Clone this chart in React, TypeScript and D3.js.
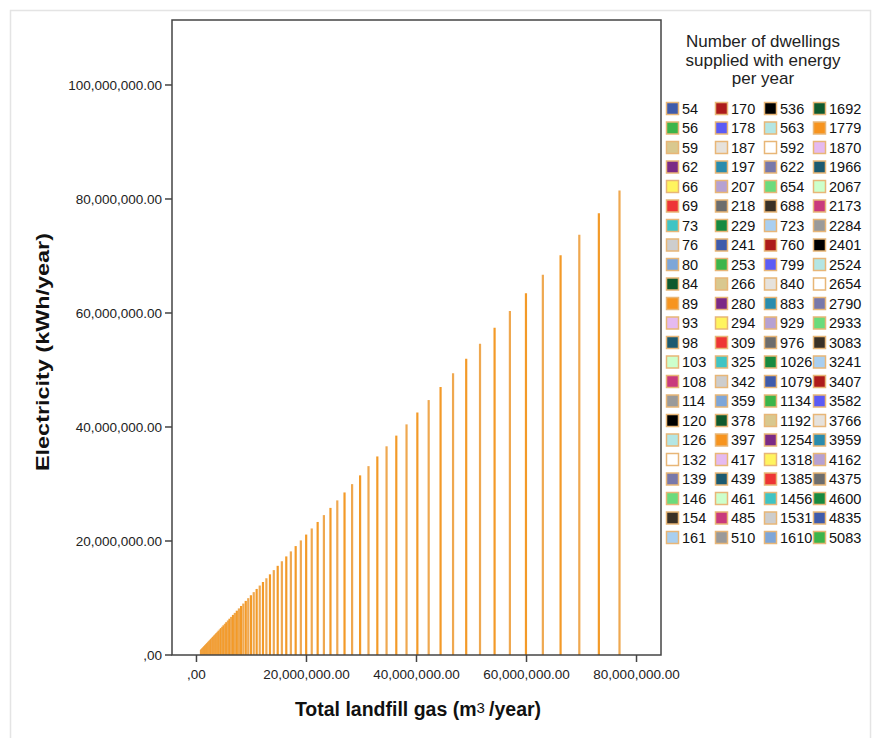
import { useEffect, useRef } from "react";
import * as d3 from "d3";

// Legend categories: number of dwellings supplied with energy per year
const dwellings = [
  54, 56, 59, 62, 66, 69, 73, 76, 80, 84, 89, 93, 98, 103, 108, 114, 120, 126, 132, 139, 146, 154, 161,
  170, 178, 187, 197, 207, 218, 229, 241, 253, 266, 280, 294, 309, 325, 342, 359, 378, 397, 417, 439, 461, 485, 510,
  536, 563, 592, 622, 654, 688, 723, 760, 799, 840, 883, 929, 976, 1026, 1079, 1134, 1192, 1254, 1318, 1385, 1456, 1531, 1610,
  1692, 1779, 1870, 1966, 2067, 2173, 2284, 2401, 2524, 2654, 2790, 2933, 3083, 3241, 3407, 3582, 3766, 3959, 4162, 4375, 4600, 4835, 5083,
];

// Total landfill gas, millions of m3/year
const gasM = [
  0.817, 0.847, 0.893, 0.938, 0.999, 1.044, 1.104, 1.15, 1.21, 1.271, 1.347, 1.407, 1.483, 1.558, 1.634, 1.725, 1.816, 1.906, 1.997, 2.103, 2.209, 2.33, 2.436,
  2.572, 2.693, 2.829, 2.981, 3.132, 3.298, 3.465, 3.646, 3.828, 4.025, 4.236, 4.448, 4.675, 4.917, 5.174, 5.432, 5.719, 6.007, 6.309, 6.642, 6.975, 7.338, 7.716,
  8.11, 8.518, 8.957, 9.411, 9.895, 10.409, 10.939, 11.499, 12.089, 12.709, 13.36, 14.056, 14.767, 15.523, 16.325, 17.157, 18.035, 18.973, 19.941, 20.955, 22.029, 23.164, 24.359,
  25.6, 26.916, 28.293, 29.746, 31.274, 32.878, 34.557, 36.327, 38.188, 40.155, 42.213, 44.376, 46.646, 49.036, 51.548, 54.196, 56.98, 59.9, 62.971, 66.194, 69.598, 73.154, 76.906,
];

// Electricity, millions of kWh/year
const electricityM = [
  0.866, 0.898, 0.946, 0.994, 1.058, 1.106, 1.17, 1.218, 1.282, 1.347, 1.427, 1.491, 1.571, 1.651, 1.731, 1.827, 1.924, 2.02, 2.116, 2.228, 2.34, 2.469, 2.581,
  2.725, 2.853, 2.998, 3.158, 3.318, 3.495, 3.671, 3.863, 4.056, 4.264, 4.488, 4.713, 4.953, 5.21, 5.482, 5.755, 6.059, 6.364, 6.685, 7.037, 7.39, 7.775, 8.175,
  8.592, 9.025, 9.49, 9.971, 10.484, 11.029, 11.59, 12.183, 12.808, 13.465, 14.154, 14.892, 15.645, 16.447, 17.296, 18.178, 19.108, 20.102, 21.128, 22.202, 23.34, 24.542, 25.808,
  27.123, 28.517, 29.976, 31.515, 33.134, 34.833, 36.613, 38.488, 40.46, 42.544, 44.724, 47.016, 49.42, 51.953, 54.614, 57.419, 60.369, 63.463, 66.717, 70.131, 73.738, 77.505, 81.48,
];

const xTicks = [0, 20e6, 40e6, 60e6, 80e6];
const yTicks = [0, 20e6, 40e6, 60e6, 80e6, 100e6];

const palette = [
  "#3f5bab", "#3cb54a", "#d9c88f", "#7b2a86", "#fff45e", "#ee3535", "#40c4c4", "#cdcdcd", "#7ea6d8", "#0f5a2e",
  "#f7941e", "#e5baf0", "#1c5a70", "#ccffcc", "#c93a7d", "#9a9a9a", "#000000", "#b4e6e4", "#ffffff", "#7878aa",
  "#6bdb7c", "#3a3126", "#a9cff0", "#ad1b1b", "#5b5bf5", "#e6e2dc", "#2a8cad", "#b6a1d2", "#6d6d6d", "#188a40",
];

const FONT = "Arial, 'Liberation Sans', sans-serif";

export default function App() {
  const svgRef = useRef<SVGSVGElement>(null);

  useEffect(() => {
    if (!svgRef.current) return;
    document.body.style.margin = "0";
    const svg = d3.select(svgRef.current);
    svg.selectAll("*").remove();

    const width = 875;
    const height = 738;
    const plot = { left: 172, right: 661, top: 20, bottom: 655 };

    svg.attr("width", width).attr("height", height);

    svg
      .append("rect")
      .attr("width", width)
      .attr("height", height)
      .attr("fill", "white");

    // outer frame
    svg
      .append("rect")
      .attr("x", 10.5)
      .attr("y", 10.5)
      .attr("width", 860)
      .attr("height", 740)
      .attr("fill", "none")
      .attr("stroke", "#e4e4e4")
      .attr("stroke-width", 1.5);

    const x = d3.scaleLinear().domain([-4.45e6, 84.45e6]).range([plot.left, plot.right]);
    const y = d3.scaleLinear().domain([0, 111.4e6]).range([plot.bottom, plot.top]);

    const fmt = (d: number) => (d === 0 ? ",00" : d3.format(",.2f")(d));

    // drop lines
    const bars = svg.append("g");
    dwellings.forEach((_, i) => {
      bars
        .append("line")
        .attr("x1", x(gasM[i] * 1e6))
        .attr("x2", x(gasM[i] * 1e6))
        .attr("y1", y(0))
        .attr("y2", y(electricityM[i] * 1e6))
        .attr("stroke", i % 2 === 0 ? "#f39a28" : "#efa850")
        .attr("stroke-width", 2.2);
    });

    // plot frame
    svg
      .append("rect")
      .attr("x", plot.left)
      .attr("y", plot.top)
      .attr("width", plot.right - plot.left)
      .attr("height", plot.bottom - plot.top)
      .attr("fill", "none")
      .attr("stroke", "#444")
      .attr("stroke-width", 1.5);

    // y axis ticks
    yTicks.forEach((t) => {
      svg
        .append("line")
        .attr("x1", plot.left - 7)
        .attr("x2", plot.left)
        .attr("y1", y(t))
        .attr("y2", y(t))
        .attr("stroke", "#444")
        .attr("stroke-width", 1.5);
      svg
        .append("text")
        .attr("x", plot.left - 10)
        .attr("y", y(t))
        .attr("dy", "0.35em")
        .attr("text-anchor", "end")
        .attr("font-family", FONT)
        .attr("font-size", "13.5px")
        .attr("fill", "#222")
        .text(fmt(t));
    });

    // x axis ticks
    xTicks.forEach((t) => {
      svg
        .append("line")
        .attr("x1", x(t))
        .attr("x2", x(t))
        .attr("y1", plot.bottom)
        .attr("y2", plot.bottom + 7)
        .attr("stroke", "#444")
        .attr("stroke-width", 1.5);
      svg
        .append("text")
        .attr("x", x(t))
        .attr("y", plot.bottom + 24)
        .attr("text-anchor", "middle")
        .attr("font-family", FONT)
        .attr("font-size", "13.5px")
        .attr("fill", "#222")
        .text(fmt(t));
    });

    // axis titles
    svg
      .append("text")
      .attr("transform", "translate(49,352) rotate(-90)")
      .attr("text-anchor", "middle")
      .attr("font-family", FONT)
      .attr("font-size", "18.5px")
      .attr("font-weight", "bold")
      .attr("fill", "#111")
      .attr("textLength", 238)
      .attr("lengthAdjust", "spacingAndGlyphs")
      .text("Electricity (kWh/year)");

    const xt = svg
      .append("text")
      .attr("x", 418)
      .attr("y", 716)
      .attr("text-anchor", "middle")
      .attr("font-family", FONT)
      .attr("font-size", "19.5px")
      .attr("font-weight", "bold")
      .attr("fill", "#111");
    xt.append("tspan").text("Total landfill gas (m");
    xt.append("tspan").attr("font-size", "15px").attr("font-weight", "normal").attr("dy", "-3").text("3 ");
    xt.append("tspan").attr("dy", "3").text("/year)");

    // legend
    const titleLines = ["Number of dwellings", "supplied with energy", "per year"];
    titleLines.forEach((l, i) => {
      svg
        .append("text")
        .attr("x", 763)
        .attr("y", 47 + i * 18.5)
        .attr("text-anchor", "middle")
        .attr("font-family", FONT)
        .attr("font-size", "17px")
        .attr("fill", "#222")
        .text(l);
    });

    const rows = 23;
    const colX = [666, 715, 764, 813];
    const legend = svg.append("g");
    dwellings.forEach((d, i) => {
      const col = Math.floor(i / rows);
      const row = i % rows;
      const yy = 102 + row * 19.5;
      legend
        .append("rect")
        .attr("x", colX[col] + 0.5)
        .attr("y", yy + 0.5)
        .attr("width", 12)
        .attr("height", 12)
        .attr("fill", palette[i % palette.length])
        .attr("stroke", "#e8b677")
        .attr("stroke-width", 1.5);
      legend
        .append("text")
        .attr("x", colX[col] + 16)
        .attr("y", yy + 6.5)
        .attr("dy", "0.35em")
        .attr("font-family", FONT)
        .attr("font-size", "14.5px")
        .attr("fill", "#111")
        .text(String(d));
    });
  }, []);

  return <svg ref={svgRef} style={{ display: "block" }}></svg>;
}
